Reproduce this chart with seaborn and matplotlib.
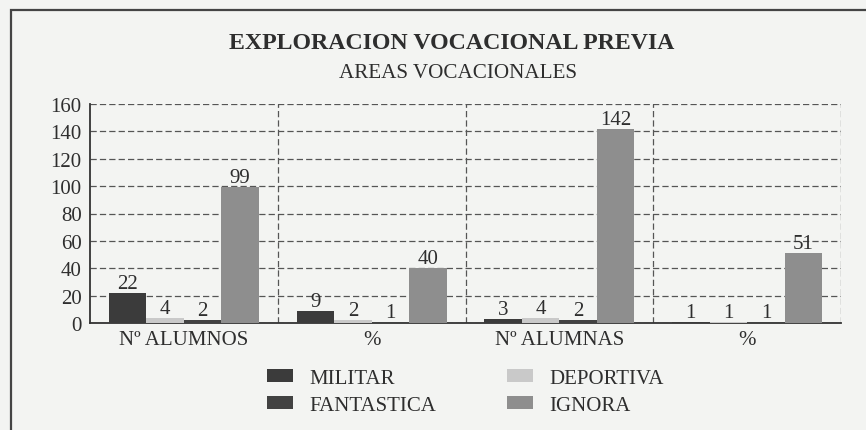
import matplotlib
matplotlib.use("Agg")
import matplotlib.pyplot as plt
from matplotlib.patches import Rectangle, Patch
import seaborn as sns
import pandas as pd

# ---- data ----
group_keys = ["alumnos_n", "alumnos_pct", "alumnas_n", "alumnas_pct"]
tick_labels = ["Nº ALUMNOS", "%", "Nº ALUMNAS", "%"]
series = ["MILITAR", "DEPORTIVA", "FANTASTICA", "IGNORA"]
militar = [22, 9, 3, 1]
deportiva = [4, 2, 4, 1]
fantastica = [2, 1, 2, 1]
ignora = [99, 40, 142, 51]
yticks = [0, 20, 40, 60, 80, 100, 120, 140, 160]
title = "EXPLORACION VOCACIONAL PREVIA"
subtitle = "AREAS VOCACIONALES"

colors = {"MILITAR": "#3b3b3b", "DEPORTIVA": "#c9c9c9",
          "FANTASTICA": "#424242", "IGNORA": "#8e8e8e"}

rows = []
for name, vals in zip(series, [militar, deportiva, fantastica, ignora]):
    for g, v in zip(group_keys, vals):
        rows.append({"grupo": g, "area": name, "valor": v})
df = pd.DataFrame(rows)

sns.set_theme(style="white")
plt.rcParams["font.family"] = ["Liberation Serif", "DejaVu Serif"]
txt = "#2e2e2e"
bg = "#f3f4f2"
fs = 15

fig = plt.figure(figsize=(8.66, 4.31), dpi=100)
fig.patch.set_facecolor(bg)
ax = fig.add_axes([90 / 866, 1 - 324 / 431, (841 - 90) / 866, (324 - 105) / 431])
ax.set_facecolor(bg)

sns.barplot(data=df, x="grupo", y="valor", hue="area", order=group_keys,
            hue_order=series, palette=colors, width=0.8, saturation=1,
            ax=ax, legend=False, zorder=3, edgecolor="none", linewidth=0)

for cont in ax.containers:
    ax.bar_label(cont, fontsize=fs, color=txt, padding=0)

ax.set_xlim(-0.5, 3.5)
ax.set_ylim(0, 160)
ax.set_yticks(yticks)
ax.set_xticks(range(len(group_keys)))
ax.set_xticklabels(tick_labels)
ax.set_xlabel("")
ax.set_ylabel("")

dash = (0, (5, 2.5))
ax.yaxis.grid(True, linestyle=dash, color="#555555", linewidth=0.9, zorder=0)
ax.set_axisbelow(True)
for xb in [0.5, 1.5, 2.5, 3.5]:
    ax.axvline(xb, ymin=0, ymax=1, linestyle=dash, color="#555555",
               linewidth=0.9, zorder=1)

for s in ["top", "right"]:
    ax.spines[s].set_visible(False)
for s in ["left", "bottom"]:
    ax.spines[s].set_color("#333333")
    ax.spines[s].set_linewidth(1.3)

ax.tick_params(axis="y", direction="inout", length=8, width=1.1,
               color="#333333", labelsize=fs, labelcolor=txt, pad=2)
ax.tick_params(axis="x", which="major", length=0, labelsize=fs,
               labelcolor=txt, pad=5)
ax.set_xticks([0.5, 1.5, 2.5, 3.5], minor=True)
ax.tick_params(axis="x", which="minor", direction="inout", length=9,
               width=1.1, color="#333333")

# titles
fig.text(452 / 866, 1 - 44 / 431, title, ha="center", va="center",
         fontsize=17.2, fontweight="bold", color=txt)
fig.text(458 / 866, 1 - 73 / 431, subtitle, ha="center", va="center",
         fontsize=15.2, color=txt)

# legend (columns: MILITAR/FANTASTICA, DEPORTIVA/IGNORA)
leg_order = ["MILITAR", "FANTASTICA", "DEPORTIVA", "IGNORA"]
handles = [Patch(facecolor=colors[n], edgecolor="none", label=n) for n in leg_order]
fig.legend(handles=handles, loc="center left", ncol=2,
           bbox_to_anchor=(252 / 866, 1 - 393 / 431), frameon=False,
           fontsize=fs, labelcolor=txt, handlelength=1.25,
           handleheight=0.62, handletextpad=0.8, columnspacing=3.4,
           labelspacing=0.38, borderpad=0.2)

# outer frame
fig.add_artist(Rectangle((11 / 866, -0.1), 1.2, 1.1 - 11 / 431,
                         transform=fig.transFigure, fill=False,
                         edgecolor="#444444", linewidth=1.6))

fig.savefig("out.png", dpi=100, facecolor=bg)
